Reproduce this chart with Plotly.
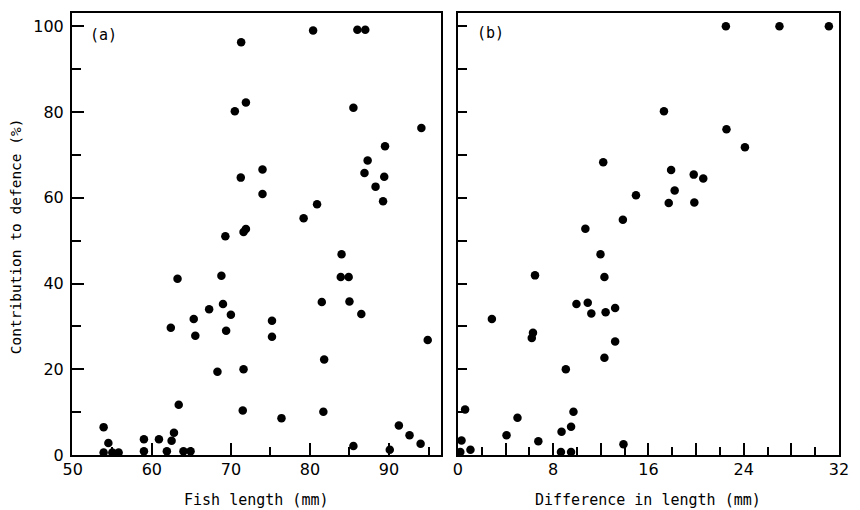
import plotly.graph_objects as go

# Panel (a): fish length (mm) vs contribution to defence (%)
fish_length = [
    71.3, 70.5, 71.9, 71.25, 69.3, 71.6, 71.9, 80.4, 86.0, 87.0,
    85.5, 94.1, 89.5, 87.3, 86.9, 89.4, 88.3, 89.25, 74.0, 74.0,
    80.9, 79.2,
    53.9, 54.5, 53.9, 55.0, 55.8, 59.0, 59.0, 60.9, 61.9, 62.5,
    62.8, 64.0, 64.9, 63.4, 63.25, 62.4, 65.3, 65.5, 67.25, 68.8,
    69.0, 70.0, 69.4, 68.3, 71.6, 71.5,
    84.0, 83.9, 84.9, 81.5, 85.0, 86.5, 75.2, 75.2, 94.9, 81.8,
    76.4, 81.7, 91.25, 92.6, 94.0, 85.5, 90.1,
]
contribution_a = [
    96.3, 80.2, 82.2, 64.7, 51.0, 52.0, 52.7, 99.0, 99.2, 99.2,
    81.0, 76.3, 72.0, 68.7, 65.8, 64.9, 62.6, 59.2, 66.6, 60.9,
    58.5, 55.2,
    6.5, 2.8, 0.6, 0.6, 0.6, 3.7, 0.9, 3.7, 0.9, 3.3,
    5.2, 0.9, 0.9, 11.7, 41.1, 29.7, 31.7, 27.8, 34.0, 41.8,
    35.2, 32.7, 29.0, 19.4, 20.0, 10.4,
    46.8, 41.5, 41.5, 35.7, 35.8, 32.9, 31.3, 27.6, 26.8, 22.3,
    8.6, 10.1, 6.9, 4.6, 2.6, 2.1, 1.2,
]

# Panel (b): difference in length (mm) vs contribution to defence (%)
diff_length = [
    12.2, 14.95, 13.85, 10.7,
    22.5, 27.0, 31.15, 17.3, 22.55, 24.1, 17.9, 19.8, 20.6, 18.2,
    17.7, 19.85,
    11.97, 12.3, 6.47, 9.95, 10.9, 11.2, 12.4, 13.2, 13.2, 12.3,
    2.85, 6.3, 6.2, 9.06, 0.6, 5.0, 9.7, 9.5, 8.7, 4.08,
    6.75, 13.9, 0.3, 0.2, 1.05, 8.65, 9.5,
]
contribution_b = [
    68.3, 60.6, 54.9, 52.8,
    100.0, 100.0, 100.0, 80.2, 76.0, 71.8, 66.5, 65.4, 64.5, 61.7,
    58.8, 58.9,
    46.8, 41.5, 41.9, 35.2, 35.5, 33.0, 33.3, 34.3, 26.5, 22.7,
    31.7, 28.5, 27.3, 20.0, 10.6, 8.7, 10.1, 6.6, 5.4, 4.6,
    3.2, 2.5, 3.4, 0.7, 1.2, 0.7, 0.7,
]

y_tick_vals = [0, 20, 40, 60, 80, 100]
y_tick_text = ["0", "20", "40", "60", "80", "100"]
xa_tick_vals = [50, 60, 70, 80, 90]
xb_tick_vals = [0, 4, 8, 12, 16, 20, 24, 28, 32]
xb_tick_text = ["0", "", "8", "", "16", "", "24", "", "32"]

FONT = "DejaVu Sans"
TFONT = "DejaVu Sans Mono"
marker = dict(color="black", size=8.5, line=dict(width=0))

fig = go.Figure()
fig.add_trace(go.Scatter(x=fish_length, y=contribution_a, mode="markers",
                         marker=marker, xaxis="x", yaxis="y", cliponaxis=False,
                         showlegend=False))
fig.add_trace(go.Scatter(x=diff_length, y=contribution_b, mode="markers",
                         marker=marker, xaxis="x2", yaxis="y2", cliponaxis=False,
                         showlegend=False))

axis_common = dict(showline=True, linecolor="black", linewidth=2, mirror=True,
                   showgrid=False, zeroline=False, ticks="inside",
                   tickcolor="black", tickwidth=1.5,
                   tickfont=dict(family=FONT, size=16, color="black"))

fig.update_layout(
    width=860, height=510,
    margin=dict(l=72, r=11, t=11, b=55),
    paper_bgcolor="white", plot_bgcolor="white",
    xaxis=dict(domain=[0, 0.4813], range=[49.9, 96.6], tickvals=xa_tick_vals,
               ticklen=12, ticklabelstandoff=-1,
               minor=dict(dtick=5, tick0=50, ticks="inside", ticklen=8,
                          tickcolor="black", tickwidth=1.5),
               anchor="y", **axis_common),
    yaxis=dict(domain=[0, 1], range=[0, 103.1], tickvals=y_tick_vals,
               ticktext=y_tick_text, ticklen=12, ticklabelstandoff=3,
               minor=dict(dtick=10, tick0=0, ticks="inside", ticklen=9,
                          tickcolor="black", tickwidth=1.5),
               anchor="x", **axis_common),
    xaxis2=dict(domain=[0.5032, 1], range=[0, 32], tickvals=xb_tick_vals,
                ticktext=xb_tick_text, ticklen=12, ticklabelstandoff=-1,
                minor=dict(dtick=2, tick0=0, ticks="inside", ticklen=8,
                           tickcolor="black", tickwidth=1.5),
                anchor="y2", **axis_common),
    yaxis2=dict(domain=[0, 1], range=[0, 103.1], dtick=10, ticklen=9,
                showticklabels=False, anchor="x2", **axis_common),
    annotations=[
        dict(text="Contribution to defence (%)", x=0, y=0.495, xref="paper", yref="paper",
             xanchor="center", yanchor="middle", xshift=-56, textangle=-90,
             showarrow=False, font=dict(family=TFONT, size=14.5, color="black")),
        dict(text="Fish length (mm)", x=0.2406, y=0, xref="paper", yref="paper",
             xanchor="center", yanchor="middle", yshift=-45,
             showarrow=False, font=dict(family=TFONT, size=15, color="black")),
        dict(text="Difference in length (mm)", x=0.7516, y=0, xref="paper", yref="paper",
             xanchor="center", yanchor="middle", yshift=-45,
             showarrow=False, font=dict(family=TFONT, size=15, color="black")),
        dict(text="(a)", x=0.041, y=0.95, xref="paper", yref="paper",
             xanchor="center", yanchor="middle",
             showarrow=False, font=dict(family=TFONT, size=15, color="black")),
        dict(text="(b)", x=0.545, y=0.955, xref="paper", yref="paper",
             xanchor="center", yanchor="middle",
             showarrow=False, font=dict(family=TFONT, size=15, color="black")),
    ],
)

fig.write_html("out.html")
